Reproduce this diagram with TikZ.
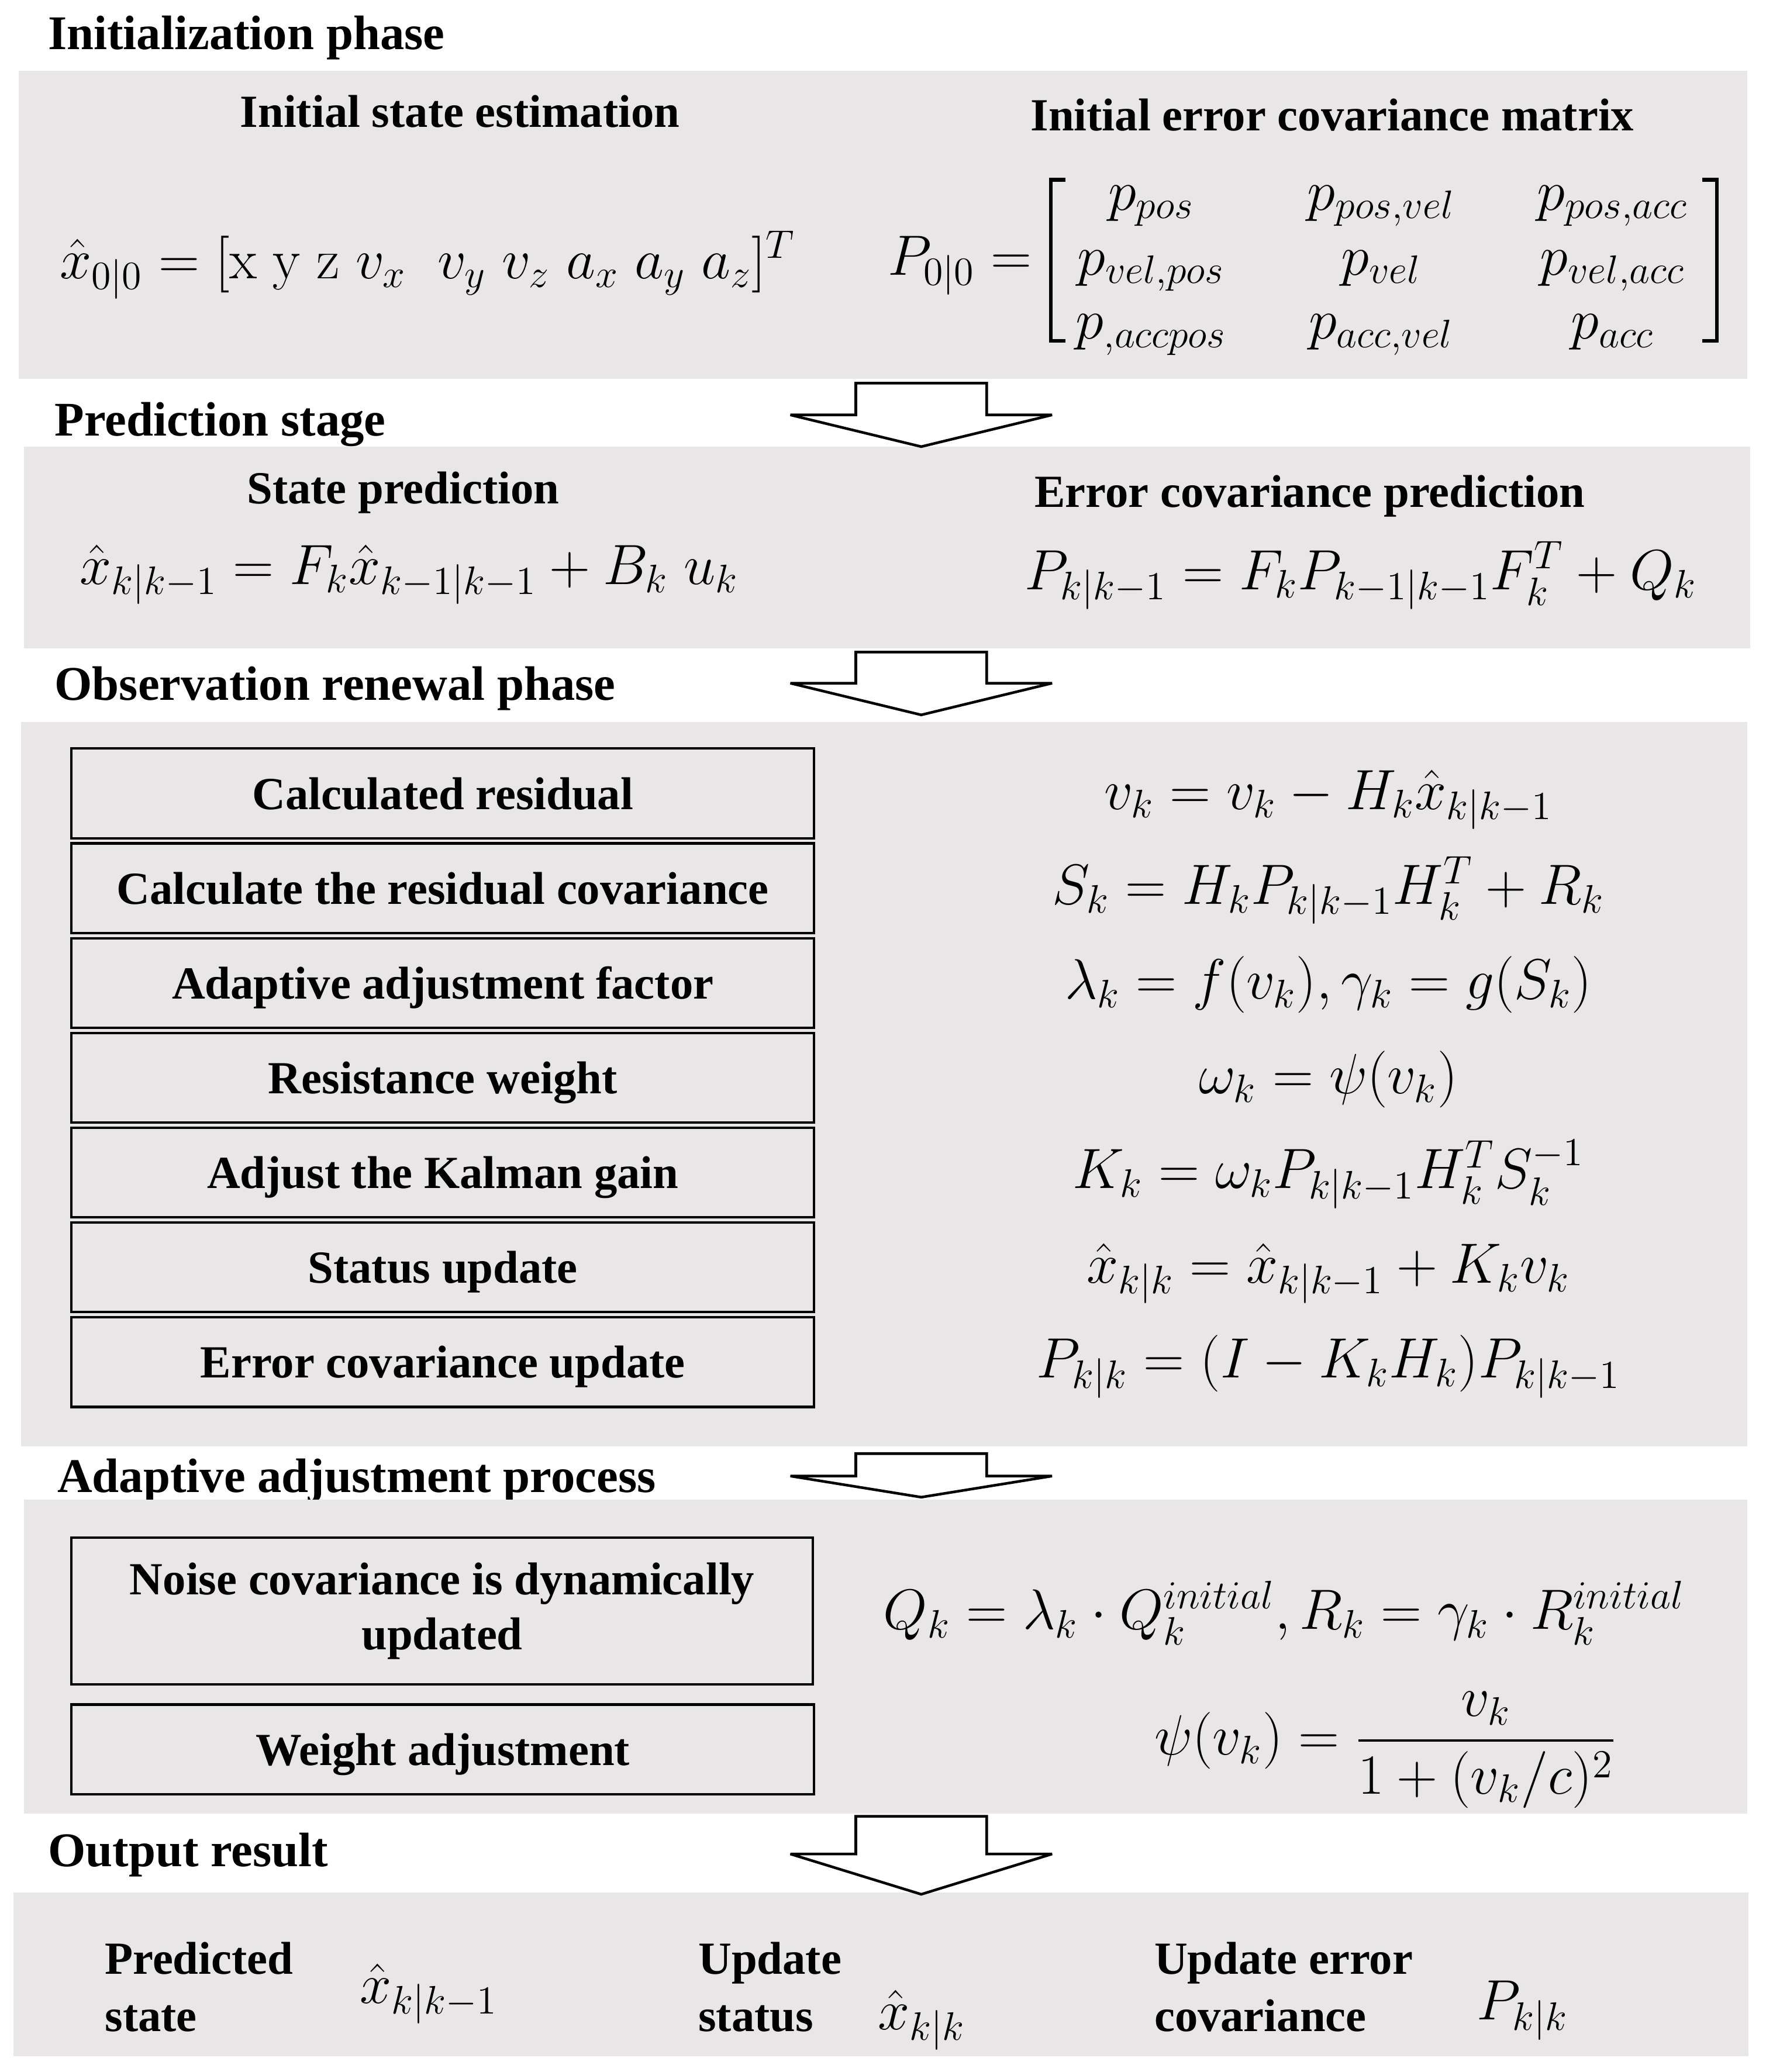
\RequirePackage{fix-cm}
\documentclass[tikz,border=0pt]{standalone}
\usepackage{amsmath}
\usepackage[no-math]{fontspec}
\setmainfont{Liberation Serif}
\definecolor{panelgray}{RGB}{232,230,231}
\tikzset{
  sectitle/.style={anchor=base west, inner sep=0pt, font=\fontsize{18.3}{22}\selectfont\bfseries},
  subhead/.style={anchor=base, inner sep=0pt, font=\fontsize{17.4}{21}\selectfont\bfseries},
  outlbl/.style={anchor=north west, inner sep=0pt, align=left, font=\fontsize{17.4}{21.5}\selectfont\bfseries},
  stepbox/.style={draw, line width=0.9pt, inner sep=0pt, minimum width=281pt, minimum height=34pt,
     text height=12pt, text depth=0pt, font=\fontsize{17.4}{21}\selectfont\bfseries},
  tallbox/.style={draw, line width=0.9pt, inner sep=0pt, minimum width=280.5pt, minimum height=55.5pt,
     align=center, font=\fontsize{17.4}{20.8}\selectfont\bfseries},
  eq/.style={anchor=base, inner sep=0pt, font=\fontsize{21.5}{26}\selectfont},
  eqw/.style={anchor=base west, inner sep=0pt, font=\fontsize{21.5}{26}\selectfont},
  blk/.style={draw, fill=white, line width=1pt, line join=miter, miter limit=3},
  brk/.style={draw, line width=1.4pt},
}
\newcommand{\blkarrow}[4]{%
  \draw[blk] (#1-49.5,#2) -- (#1+49.5,#2) -- (#1+49.5,#3) -- (#1+99,#3) -- (#1,#4)
     -- (#1-99,#3) -- (#1-49.5,#3) -- cycle;}
\begin{document}
\begin{tikzpicture}[x=0.5pt,y=-0.5pt]
\useasboundingbox (0,0) rectangle (1336,1568);

% section titles
\node[sectitle] (t1) at (36,37.5) {Initialization phase};
\node[sectitle] (t2) at (41,330) {Prediction stage};
\node[sectitle] (t3) at (41,530) {Observation renewal phase};
\node[sectitle] (t4) at (43,1129.5) {Adaptive adjustment process};
\node[sectitle] (t5) at (36,1412.5) {Output result};

% panels
\fill[panelgray] (14,53.5) rectangle (1322,286.5);
\fill[panelgray] (18,338) rectangle (1324,490.5);
\fill[panelgray] (16,546.5) rectangle (1322,1094.5);
\fill[panelgray] (18,1135) rectangle (1322,1372.5);
\fill[panelgray] (10,1432) rectangle (1323,1556);

% arrows
\blkarrow{697}{290}{314}{338}
\blkarrow{697}{493.5}{517}{541}
\blkarrow{697}{1100}{1117}{1133}
\blkarrow{697}{1374.5}{1403}{1433.5}

% Initialization panel
\node[subhead] (s1) at (348,96.4) {Initial state estimation};
\node[subhead] (s2) at (1008,98.8) {Initial error covariance matrix};
\node[eqw] (x00) at (45,211) {$\hat{x}_{0|0} = [\mathrm{x}\;\mathrm{y}\;\mathrm{z}\; v_x\;\; v_y\; v_z\; a_x\; a_y\; a_z]^T$};
\node[eq, anchor=base east] (p00) at (781,208) {$P_{0|0} =$};
\node[eq] (m11) at (871,159) {$p_{pos}$};
\node[eq] (m12) at (1045,159) {$p_{pos,vel}$};
\node[eq] (m13) at (1220,159) {$p_{pos,acc}$};
\node[eq] (m21) at (871,208) {$p_{vel,pos}$};
\node[eq] (m22) at (1045,208) {$p_{vel}$};
\node[eq] (m23) at (1220,208) {$p_{vel,acc}$};
\node[eq] (m31) at (871,256.6) {$p_{,accpos}$};
\node[eq] (m32) at (1045,256.6) {$p_{acc,vel}$};
\node[eq] (m33) at (1220,256.6) {$p_{acc}$};
\draw[brk] (806,136) -- (795,136) -- (795,258) -- (806,258);
\draw[brk] (1288,136) -- (1299,136) -- (1299,258) -- (1288,258);

% Prediction panel
\node[subhead] (s3) at (305,381) {State prediction};
\node[subhead] (s4) at (991,384) {Error covariance prediction};
\node[eqw] (e1) at (60,442) {$\hat{x}_{k|k-1} = F_k\hat{x}_{k-1|k-1} + B_k\;u_k$};
\node[eqw] (e2) at (775,446) {$P_{k|k-1} = F_kP_{k-1|k-1}F_k^T + Q_k$};

% Observation renewal panel
\node[stepbox] (b1) at (335,600.5) {Calculated residual};
\node[stepbox] (b2) at (335,672.2) {Calculate the residual covariance};
\node[stepbox] (b3) at (335,743.9) {Adaptive adjustment factor};
\node[stepbox] (b4) at (335,815.6) {Resistance weight};
\node[stepbox] (b5) at (335,887.3) {Adjust the Kalman gain};
\node[stepbox] (b6) at (335,959) {Status update};
\node[stepbox] (b7) at (335,1030.7) {Error covariance update};
\node[eq] (r1) at (1005,612.5) {$v_k = v_k - H_k\hat{x}_{k|k-1}$};
\node[eq] (r2) at (1005,684.2) {$S_k = H_kP_{k|k-1}H_k^T + R_k$};
\node[eq] (r3) at (1005,755.9) {$\lambda_k = f(v_k), \gamma_k = g(S_k)$};
\node[eq] (r4) at (1005,827.6) {$\omega_k = \psi(v_k)$};
\node[eq] (r5) at (1005,899.3) {$K_k = \omega_kP_{k|k-1}H_k^TS_k^{-1}$};
\node[eq] (r6) at (1005,971) {$\hat{x}_{k|k} = \hat{x}_{k|k-1} + K_kv_k$};
\node[eq] (r7) at (1005,1042.7) {$P_{k|k} = (I - K_kH_k)P_{k|k-1}$};

% Adaptive adjustment panel
\node[tallbox] (n1) at (334.5,1219) {Noise covariance is dynamically\\updated};
\node[stepbox] (n2) at (335,1323.9) {Weight adjustment};
\node[eqw] (q1) at (668,1233) {$Q_k = \lambda_k\cdot Q_k^{initial}, R_k = \gamma_k\cdot R_k^{initial}$};
\node[eqw] (q2) at (873,1328) {$\psi(v_k) = \dfrac{v_k}{1+(v_k/c)^2}$};

% Output panel
\node[outlbl] (o1) at (79,1469.5) {Predicted\\state};
\node[eqw] (o1m) at (272,1516) {$\hat{x}_{k|k-1}$};
\node[outlbl] (o2) at (528,1469.5) {Update\\status};
\node[eqw] (o2m) at (664,1536) {$\hat{x}_{k|k}$};
\node[outlbl] (o3) at (873,1469.5) {Update error\\covariance};
\node[eqw] (o3m) at (1117,1528.6) {$P_{k|k}$};
\end{tikzpicture}
\end{document}
